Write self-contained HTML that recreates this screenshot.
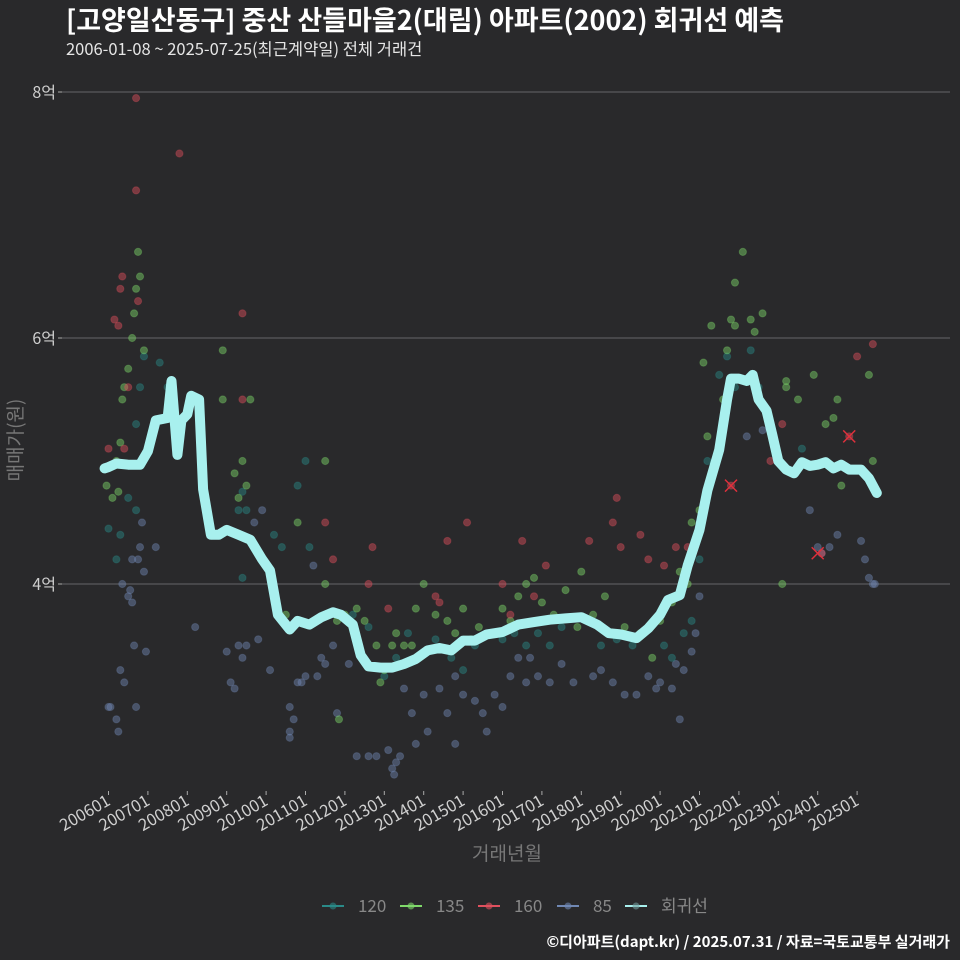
<!DOCTYPE html>
<html><head><meta charset="utf-8">
<style>
html,body{margin:0;padding:0;background:#29292b;}
svg{display:block;font-family:"Noto Sans CJK KR","Liberation Sans",sans-serif;}
</style></head>
<body>
<svg id="chart" width="960" height="960" xmlns="http://www.w3.org/2000/svg">
<rect width="960" height="960" fill="#29292b"/>
<text x="66" y="30" fill="#ffffff" font-size="27" font-weight="bold">[고양일산동구] 중산 산들마을2(대림) 아파트(2002) 회귀선 예측</text>
<text x="66" y="55" fill="#e6e6e6" font-size="16.5">2006-01-08 ~ 2025-07-25(최근계약일) 전체 거래건</text>
<g id="grid"></g>
<g id="points"></g>
<g id="line"></g>
<g id="xaxis"></g>
<text transform="translate(22,440) rotate(-90)" text-anchor="middle" fill="#777" font-size="19">매매가(원)</text>
<text x="507" y="860" text-anchor="middle" fill="#777" font-size="19">거래년월</text>
<g id="legend"></g>
<text x="950" y="947" text-anchor="end" fill="#ffffff" font-size="15" font-weight="bold">©디아파트(dapt.kr) / 2025.07.31 / 자료=국토교통부 실거래가</text>
</svg>
<script>
const yTicks=[4,6,8];
const yTickLabels=["4억","6억","8억"];
const xTickYears=[2006,2007,2008,2009,2010,2011,2012,2013,2014,2015,2016,2017,2018,2019,2020,2021,2022,2023,2024,2025];
const xTickLabels=["200601","200701","200801","200901","201001","201101","201201","201301","201401","201501","201601","201701","201801","201901","202001","202101","202201","202301","202401","202501"];
const seriesNames=["120","135","160","85","회귀선"];
const seriesColors=["#2a8a88","#7fd96a","#e0505e","#7088b4","#a8f0ee"];
const lineT=[2005.9,2006.0,2006.2,2006.5,2006.8,2007.0,2007.2,2007.5,2007.6,2007.75,2007.85,2008.0,2008.1,2008.3,2008.4,2008.6,2008.8,2009.0,2009.3,2009.6,2009.9,2010.1,2010.3,2010.6,2010.8,2011.1,2011.4,2011.7,2011.9,2012.2,2012.4,2012.6,2012.9,2013.2,2013.5,2013.8,2014.1,2014.4,2014.7,2015.0,2015.3,2015.6,2016.0,2016.4,2016.8,2017.2,2017.6,2018.0,2018.4,2018.7,2019.0,2019.4,2019.7,2020.0,2020.2,2020.5,2020.7,2021.0,2021.2,2021.5,2021.7,2021.8,2022.0,2022.2,2022.35,2022.5,2022.7,2022.85,2023.0,2023.2,2023.4,2023.6,2023.8,2024.0,2024.2,2024.4,2024.6,2024.8,2025.1,2025.3,2025.5];
const lineV=[4.94,4.95,4.98,4.97,4.97,5.08,5.33,5.35,5.65,5.05,5.33,5.38,5.53,5.5,4.77,4.4,4.4,4.44,4.4,4.36,4.2,4.11,3.75,3.63,3.7,3.67,3.73,3.77,3.75,3.67,3.42,3.33,3.32,3.32,3.35,3.39,3.46,3.48,3.46,3.54,3.54,3.59,3.61,3.67,3.69,3.71,3.72,3.73,3.67,3.6,3.59,3.56,3.64,3.75,3.87,3.91,4.15,4.44,4.76,5.09,5.5,5.67,5.67,5.65,5.7,5.5,5.41,5.21,5.0,4.93,4.9,4.99,4.96,4.97,4.99,4.94,4.97,4.93,4.93,4.86,4.74];
const pts85T=[2006.0,2006.05,2006.2,2006.25,2006.3,2006.4,2006.5,2006.6,2006.65,2006.7,2006.75,2006.8,2006.85,2006.9,2006.95,2006.6,2006.35,2006.55,2007.2,2008.2,2009.0,2009.1,2009.2,2009.3,2009.4,2009.5,2009.8,2010.1,2009.9,2009.7,2010.6,2010.6,2010.7,2010.8,2010.9,2011.0,2011.3,2011.4,2011.2,2010.6,2011.5,2011.8,2012.1,2012.3,2011.7,2012.6,2012.8,2013.1,2013.2,2013.25,2013.3,2013.4,2013.7,2013.8,2014.0,2014.1,2013.5,2014.4,2014.6,2014.8,2015.0,2015.3,2015.5,2015.8,2014.8,2015.6,2016.2,2016.4,2016.6,2016.9,2017.2,2017.5,2017.8,2016.0,2016.7,2018.3,2018.5,2018.8,2019.1,2019.4,2019.7,2019.9,2020.0,2020.3,2020.5,2020.6,2020.8,2020.9,2021.0,2020.4,2022.2,2022.6,2023.8,2024.0,2024.1,2024.3,2024.5,2025.1,2025.2,2025.3,2025.4,2025.45];
const pts85V=[3.0,3.0,2.9,2.8,3.3,3.2,3.9,3.85,3.5,3.0,4.2,4.3,4.5,4.1,3.45,4.2,4.0,3.95,4.3,3.65,3.45,3.2,3.15,3.5,3.4,3.5,3.55,3.3,4.6,4.5,3.0,2.8,2.9,3.2,3.2,3.25,3.25,3.4,4.15,2.75,3.35,2.95,3.35,2.6,3.5,2.6,2.6,2.65,2.5,2.45,2.55,2.6,2.95,2.7,3.1,2.8,3.15,3.15,2.95,2.7,3.1,3.05,2.95,3.1,3.25,2.8,3.25,3.4,3.2,3.25,3.2,3.35,3.2,3.0,3.4,3.25,3.3,3.2,3.1,3.1,3.25,3.15,3.2,3.15,2.9,3.3,3.45,3.6,3.9,3.35,5.2,5.25,4.6,4.3,4.25,4.3,4.4,4.35,4.2,4.05,4.0,4.0];
const pts120T=[2006.0,2006.3,2006.5,2006.7,2006.8,2006.9,2006.7,2006.2,2007.3,2007.5,2009.4,2009.3,2009.5,2009.4,2010.2,2010.4,2011.0,2010.8,2011.1,2012.2,2012.6,2013.0,2013.3,2013.6,2014.3,2014.7,2015.0,2015.3,2016.0,2016.3,2016.6,2016.9,2017.2,2017.5,2018.5,2018.9,2019.3,2020.1,2020.3,2020.6,2020.8,2021.0,2021.2,2021.5,2021.7,2021.9,2022.3,2022.5,2023.6];
const pts120V=[4.45,4.4,4.7,5.3,5.6,5.85,4.6,4.2,5.8,5.6,4.75,4.6,4.6,4.05,4.4,4.3,5.0,4.8,4.3,3.75,3.65,3.25,3.4,3.6,3.55,3.4,3.3,3.5,3.55,3.6,3.5,3.6,3.5,3.65,3.5,3.55,3.5,3.5,3.4,3.6,3.7,4.2,5.0,5.7,5.85,5.6,5.9,5.6,5.1];
const pts135T=[2005.95,2006.1,2006.2,2006.3,2006.35,2006.4,2006.5,2006.6,2006.65,2006.7,2006.75,2006.8,2006.9,2006.25,2008.9,2008.9,2009.2,2009.3,2009.4,2009.5,2009.6,2010.8,2010.5,2011.5,2011.5,2011.8,2012.0,2011.85,2012.3,2012.5,2012.8,2012.9,2013.0,2013.2,2013.3,2013.5,2013.7,2013.8,2014.0,2014.3,2014.6,2014.8,2015.0,2015.2,2015.4,2016.0,2016.2,2016.4,2016.6,2016.8,2017.0,2017.3,2017.6,2017.9,2018.0,2018.3,2018.6,2019.1,2019.5,2019.8,2020.0,2020.3,2020.5,2020.7,2020.9,2021.0,2021.2,2021.3,2021.1,2020.8,2021.6,2021.7,2021.8,2021.9,2022.1,2022.3,2022.4,2022.6,2021.9,2023.1,2023.2,2023.2,2023.5,2023.9,2024.2,2024.4,2024.5,2024.6,2025.3,2025.4];
const pts135V=[4.8,4.7,5.0,5.15,5.5,5.6,5.75,6.0,6.2,6.4,6.7,6.5,5.9,4.75,5.9,5.5,4.9,4.7,5.0,4.8,5.5,4.5,3.75,4.0,5.0,3.7,3.75,2.9,3.8,3.7,3.5,3.2,3.3,3.5,3.6,3.5,3.5,3.8,4.0,3.75,3.7,3.6,3.8,3.55,3.65,3.8,3.7,3.9,4.0,4.05,3.85,3.75,3.95,3.65,4.1,3.75,3.9,3.65,3.6,3.4,3.7,3.85,4.1,4.0,4.35,4.6,5.2,6.1,5.8,4.5,5.5,5.9,6.15,6.45,6.7,6.15,6.05,6.2,6.1,4.0,5.65,5.6,5.5,5.7,5.3,5.35,5.5,4.8,5.7,5.0];
const pts160T=[2006.0,2006.15,2006.25,2006.35,2006.3,2006.7,2006.7,2006.75,2006.5,2006.4,2007.8,2009.4,2009.4,2011.5,2011.7,2012.6,2012.7,2013.1,2014.3,2014.6,2015.1,2014.4,2016.0,2016.5,2016.8,2017.1,2016.2,2018.2,2018.8,2018.9,2019.0,2019.5,2019.7,2020.1,2020.4,2020.7,2021.8,2023.1,2022.8,2024.1,2024.8,2025.0,2025.4];
const pts160V=[5.1,6.15,6.1,6.5,6.4,7.95,7.2,6.3,5.6,5.1,7.5,6.2,5.5,4.5,4.2,4.0,4.3,3.8,3.9,4.35,4.5,3.85,4.0,4.35,3.9,4.15,3.75,4.35,4.5,4.7,4.3,4.4,4.2,4.15,4.3,4.3,4.8,5.3,5.0,4.25,5.2,5.85,5.95];
const highlightT=[2021.8,2024.8,2024.0];
const highlightV=[4.8,5.2,4.25];

const NS="http://www.w3.org/2000/svg";
const X0=62,X1=950;
function xs(t){return 108.5+39.4*(t-2006);}
function ys(v){return 584-(v-4)*123;}
function mk(tag,attrs,parent){const e=document.createElementNS(NS,tag);for(const k in attrs)e.setAttribute(k,attrs[k]);parent.appendChild(e);return e;}

const grid=document.getElementById('grid');
yTicks.forEach((v,i)=>{
  const l=mk('line',{x1:X0,x2:X1,y1:ys(v),y2:ys(v),stroke:'#5a5a5c','stroke-width':1.2},grid);
  
  
  const tk=mk('line',{x1:X0-4,x2:X0,y1:ys(v),y2:ys(v),stroke:'#aaa','stroke-width':1},grid);
  
  
  const t=mk('text',{x:X0-6,y:ys(v)+6,'text-anchor':'end',fill:'#cfcfcf','font-size':16},grid);
  t.textContent=yTickLabels[i];
  
  
});
const xa=document.getElementById('xaxis');
xTickYears.forEach((yr,i)=>{
  const x=xs(yr);
  const tk=mk('line',{x1:x,x2:x,y1:791,y2:795,stroke:'#aaa','stroke-width':1},xa);
  
  
  const t=mk('text',{x:x+3,y:804,'text-anchor':'end',fill:'#d0d0d0','font-size':16.5,transform:`rotate(-30 ${x+3} 804)`},xa);
  t.textContent=xTickLabels[i];
  
  
});
const pg=document.getElementById('points');
function drawPts(T,V,color,name){
  T.forEach((t,i)=>{
    const c=mk('circle',{cx:xs(t),cy:ys(V[i]),r:3.6,fill:color,'fill-opacity':0.45,stroke:color,'stroke-opacity':0.3},pg);
    
    
  });
}
drawPts(pts85T,pts85V,seriesColors[3],'point-85');
drawPts(pts120T,pts120V,seriesColors[0],'point-120');
drawPts(pts135T,pts135V,seriesColors[1],'point-135');
drawPts(pts160T,pts160V,seriesColors[2],'point-160');
highlightT.forEach((t,i)=>{
  const x=xs(t),y=ys(highlightV[i]);
  const p=mk('path',{d:`M${x-6},${y-6}L${x+6},${y+6}M${x-6},${y+6}L${x+6},${y-6}`,stroke:'#e0303c','stroke-width':1.5},pg);
  
  
});
const lg=document.getElementById('line');
const d=lineT.map((t,i)=>(i?'L':'M')+xs(t).toFixed(1)+','+ys(lineV[i]).toFixed(1)).join('');
const path=mk('path',{d:d,fill:'none',stroke:seriesColors[4],'stroke-width':10,'stroke-linejoin':'round','stroke-linecap':'round'},lg);



const leg=document.getElementById('legend');
const legX=[322,400,478,557,625];
seriesNames.forEach((n,i)=>{
  const g=mk('g',{},leg);
  
  
  const x=legX[i];
  mk('line',{x1:x,x2:x+22,y1:906,y2:906,stroke:seriesColors[i],'stroke-width':2},g);
  mk('circle',{cx:x+11,cy:906,r:3.5,fill:i===4?'#6f9a9a':seriesColors[i],'fill-opacity':0.6},g);
  const t=mk('text',{x:x+36,y:912,fill:'#888','font-size':17},g);
  t.textContent=n;
});
</script>
</body></html>
